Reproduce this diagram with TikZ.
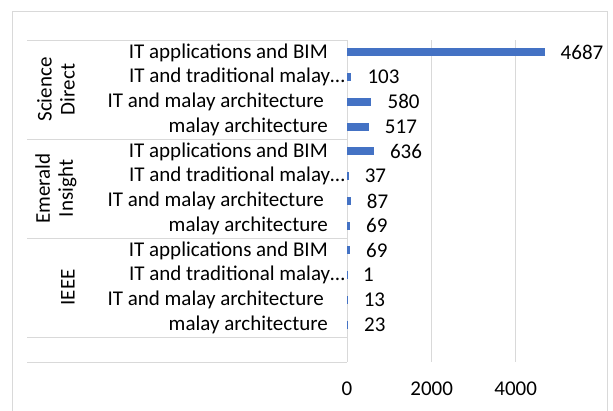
\documentclass[tikz,border=0pt]{standalone}
\usepackage{fontspec}
\setmainfont{Carlito}
\definecolor{excelblue}{HTML}{4472C4}
\definecolor{gridgrey}{HTML}{D9D9D9}
\newcommand{\chartfont}{\fontsize{21}{23}\selectfont}
% #1 name, #2 row y, #3 label right edge, #4 label, #5 value
\newcommand{\chartrow}[5]{
    \node[anchor=east] (lab#1) at (#3,#2) {#4};
    \fill[excelblue] (347,#2-4) rectangle ({347+#5*0.04215},#2+4);
    \node[anchor=west] (val#1) at ({347+#5*0.04215+16},#2) {#5};
}

\begin{document}
\begin{tikzpicture}[x=1pt,y=-1pt,
        every node/.style={font=\chartfont,inner sep=0pt},
        gridline/.style={draw=gridgrey,line width=1pt}]
        \useasboundingbox (0,0) rectangle (613,410);
        \draw[gridline] (12.5,11.5) rectangle (607,425);

        % value axis grid
        \draw[gridline] (431.7,40) -- (431.7,362);
        \draw[gridline] (515.7,40) -- (515.7,362);
        \node (tick0) at (347,389) {0};
        \node (tick2000) at (431.7,389) {2000};
        \node (tick4000) at (515.7,389) {4000};

        % category table
        \draw[gridline] (27,40) -- (347,40);
        \draw[gridline] (27,139) -- (347,139);
        \draw[gridline] (27,238) -- (347,238);
        \draw[gridline] (27,337) -- (347,337);
        \draw[gridline] (27,362) -- (347,362);
        \draw[gridline] (347,40) -- (347,362);

        \node[rotate=90,align=center] (sd) at (56,89.5) {Science\\Direct};
        \node[rotate=90,align=center] (ei) at (56,188.5) {Emerald\\Insight};
        \node[rotate=90] (ieee) at (68,287.5) {IEEE};

        \chartrow{a}{52.4}{328}{IT applications and BIM}{4687}
        \chartrow{b}{77.1}{345}{IT and traditional malay…}{103}
        \chartrow{c}{101.9}{324}{IT and malay architecture}{580}
        \chartrow{d}{126.6}{328}{malay architecture}{517}

        \chartrow{e}{151.4}{328}{IT applications and BIM}{636}
        \chartrow{f}{176.1}{345}{IT and traditional malay…}{37}
        \chartrow{g}{200.9}{324}{IT and malay architecture}{87}
        \chartrow{h}{225.6}{328}{malay architecture}{69}

        \chartrow{i}{250.4}{328}{IT applications and BIM}{69}
        \chartrow{j}{275.1}{345}{IT and traditional malay…}{1}
        \chartrow{k}{299.9}{324}{IT and malay architecture}{13}
        \chartrow{l}{324.6}{328}{malay architecture}{23}
\end{tikzpicture}
\end{document}
